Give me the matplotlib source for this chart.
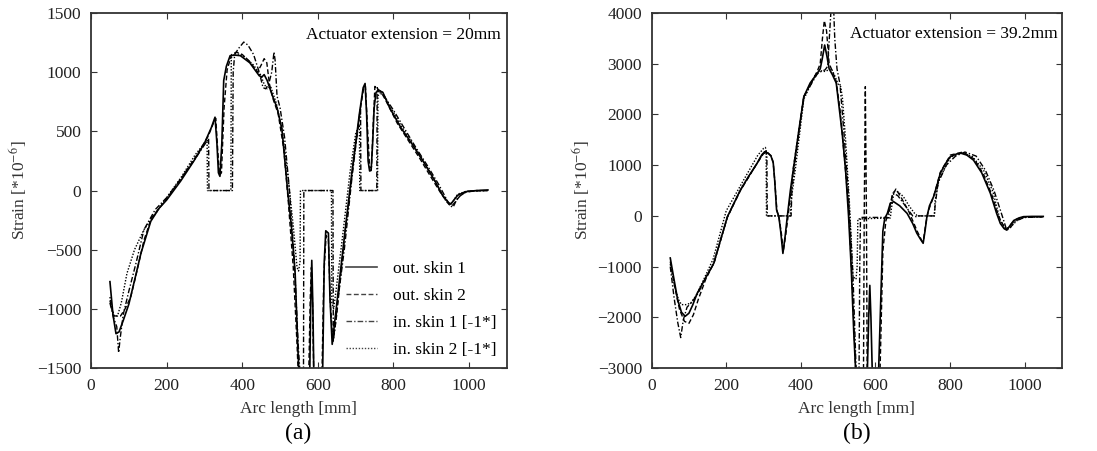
import matplotlib
matplotlib.use("Agg")
import matplotlib.pyplot as plt

plt.rcParams['font.family'] = ['Liberation Serif', 'DejaVu Serif']
plt.rcParams['mathtext.fontset'] = 'stix'

# ---------------- (a) actuator extension = 20mm ----------------
a_out1_x = [50, 58, 66, 74, 85, 100, 115, 132, 158, 180, 200, 237, 272, 300, 318, 328, 333, 337, 341,
            346, 351, 358, 368, 380, 395, 420, 445, 452, 458, 466, 480, 492, 505, 520, 530, 540, 548,
            553, 578, 581, 584, 587, 590, 612, 617, 621, 628, 632, 638, 645, 670, 690, 710, 720, 725,
            729, 733, 737, 741, 745, 749, 754, 762, 772, 790, 820, 850, 880, 910, 930, 945, 952, 960,
            970, 990, 1020, 1050]
a_out1_y = [-770, -1050, -1210, -1195, -1100, -960, -760, -530, -260, -150, -80, 80, 250, 400, 530, 620,
            400, 150, 120, 400, 930, 1050, 1140, 1145, 1140, 1080, 970, 960, 980, 930, 800, 700, 520,
            0, -300, -700, -1400, -1700, -1700, -1000, -590, -1000, -1700, -1700, -600, -340, -360,
            -900, -1300, -1100, -400, 150, 650, 870, 905, 650, 250, 165, 170, 400, 700, 830, 845, 830,
            700, 530, 390, 240, 80, -40, -100, -115, -80, -40, -10, 0, 5]

a_out2_x = [50, 60, 70, 78, 90, 105, 120, 140, 160, 200, 240, 280, 310, 325, 330, 335, 340, 345, 352,
            360, 372, 385, 400, 420, 440, 450, 458, 465, 472, 482, 495, 510, 522, 535, 545, 550, 575,
            580, 583, 586, 590, 610, 616, 622, 628, 633, 640, 650, 672, 692, 712, 722, 726, 732, 737,
            742, 747, 751, 757, 766, 780, 810, 840, 870, 900, 925, 945, 955, 965, 980, 1000, 1050]
a_out2_y = [-930, -1060, -1060, -1060, -1000, -900, -700, -420, -230, -70, 110, 300, 460, 580, 610,
            350, 130, 150, 700, 1020, 1150, 1170, 1150, 1090, 1000, 1060, 1115, 1080, 900, 770, 650,
            350, -100, -650, -1300, -1700, -1700, -900, -650, -950, -1700, -1700, -700, -380, -420,
            -950, -1280, -1050, -350, 180, 680, 880, 880, 500, 190, 200, 600, 880, 860, 840, 760, 570,
            420, 270, 110, -20, -110, -130, -90, -30, -5, 0]

a_in1_x = [50, 60, 68, 73, 77, 85, 100, 120, 140, 170, 200, 240, 280, 305, 311, 312, 374, 376, 380,
           390, 404, 415, 430, 445, 455, 462, 470, 478, 484, 487, 492, 500, 512, 525, 538, 548, 556,
           562, 563, 640, 641, 646, 652, 670, 690, 705, 713, 714, 756, 757, 762, 775, 800, 830, 860,
           890, 920, 940, 950, 958, 970, 990, 1020, 1050]
a_in1_y = [-950, -1080, -1150, -1370, -1250, -1050, -850, -600, -330, -160, -60, 110, 290, 410, 440,
           0, 0, 1000, 1150, 1200, 1255, 1230, 1150, 1000, 870, 860, 900, 1000, 1170, 1100, 800, 700,
           450, 0, -600, -1300, -1700, -1700, 0, 0, -1270, -1150, -950, -500, 100, 500, 700, 0, 0,
           870, 830, 800, 680, 520, 360, 210, 50, -70, -130, -140, -60, -15, 0, 0]

a_in2_x = [50, 55, 62, 70, 80, 95, 115, 140, 165, 200, 240, 275, 300, 307, 308, 370, 371, 380, 395,
           410, 430, 448, 458, 466, 475, 490, 505, 520, 535, 545, 549, 553, 554, 636, 637, 642, 648,
           665, 685, 700, 710, 711, 758, 759, 768, 790, 820, 850, 880, 910, 935, 948, 958, 970, 995,
           1050]
a_in2_y = [-900, -1000, -1060, -1060, -950, -700, -500, -330, -220, -60, 120, 300, 400, 420, 0, 0,
           1120, 1160, 1150, 1120, 1060, 980, 900, 860, 880, 740, 520, 150, -300, -650, -680, -600, 0,
           0, -950, -1000, -850, -400, 150, 480, 560, 0, 0, 800, 840, 720, 550, 400, 250, 80, -70,
           -120, -90, -30, -5, 0]

# ---------------- (b) actuator extension = 39.2mm ----------------
b_out1_x = [50, 60, 70, 80, 90, 100, 110, 122, 145, 167, 185, 203, 220, 238, 260, 283, 295, 303, 312,
            320, 326, 330, 335, 341, 346, 352, 358, 364, 372, 381, 395, 408, 425, 444, 452, 457, 464,
            470, 476, 485, 495, 505, 511, 520, 528, 535, 542, 548, 578, 582, 585, 588, 592, 608, 615,
            620, 625, 632, 640, 649, 665, 685, 700, 711, 720, 728, 733, 738, 745, 756, 765, 774, 787,
            801, 819, 830, 845, 863, 885, 908, 925, 935, 945, 952, 960, 971, 985, 997, 1020, 1050]
b_out1_y = [-830, -1250, -1660, -1900, -1980, -1920, -1760, -1530, -1220, -930, -470, -20, 240, 510,
            780, 1040, 1200, 1265, 1240, 1180, 1050, 700, 120, -10, -300, -740, -400, 0, 500, 970,
            1700, 2350, 2620, 2810, 2900, 3080, 3370, 3150, 2900, 2780, 2620, 2000, 1630, 900, 0,
            -1000, -2300, -3200, -3200, -2000, -1370, -2000, -3200, -3200, -1500, -300, -50, 50, 250,
            280, 200, 50, -150, -340, -450, -540, -300, -20, 200, 380, 600, 840, 1020, 1170, 1225,
            1235, 1200, 1100, 850, 450, 50, -150, -250, -280, -200, -90, -40, -15, -10, -10]

b_out2_x = [50, 62, 75, 88, 100, 112, 125, 145, 167, 185, 203, 238, 283, 300, 310, 320, 326, 330, 336,
            342, 348, 353, 360, 366, 380, 408, 444, 452, 458, 463, 469, 476, 485, 495, 505, 515, 528,
            540, 548, 568, 570, 573, 576, 578, 600, 612, 620, 628, 636, 645, 655, 670, 690, 712, 725,
            729, 735, 742, 756, 774, 801, 835, 865, 890, 912, 930, 948, 955, 965, 980, 1000, 1050]
b_out2_y = [-900, -1400, -1850, -2080, -2120, -1950, -1650, -1250, -930, -480, -30, 500, 1040, 1230,
            1250, 1190, 1060, 700, 100, -50, -350, -700, -350, 0, 950, 2350, 2850, 3000, 3500, 3850,
            3650, 3000, 2850, 2650, 2100, 1300, 200, -1700, -3200, -3200, 0, 2550, 0, -3200, -3200,
            -3200, -700, -100, 100, 400, 530, 350, 80, -300, -500, -470, -150, 100, 380, 860, 1200,
            1260, 1120, 820, 420, 0, -260, -250, -150, -60, -20, -15]

b_in1_x = [50, 60, 70, 78, 85, 95, 108, 125, 145, 167, 203, 238, 283, 300, 307, 309, 310, 374, 376,
           385, 408, 444, 455, 465, 472, 478, 483, 487, 491, 497, 505, 515, 528, 540, 549, 556, 558,
           560, 630, 635, 640, 647, 660, 680, 700, 712, 713, 758, 760, 768, 790, 815, 840, 870, 895,
           918, 940, 952, 960, 975, 1000, 1050]
b_in1_y = [-1000, -1600, -2100, -2400, -2050, -1800, -1700, -1520, -1220, -930, -20, 510, 1040, 1250,
           1280, 1200, 0, 0, 500, 1100, 2350, 2800, 2850, 2880, 2950, 3700, 4300, 4300, 3500, 2900,
           2600, 1700, 400, -1200, -3200, -3200, -1000, -30, -30, -40, 200, 450, 400, 200, 0, -20, 0,
           0, 200, 650, 1000, 1180, 1260, 1180, 900, 500, 0, -280, -250, -100, -30, -20]

b_in2_x = [50, 62, 72, 80, 92, 105, 120, 140, 165, 200, 250, 285, 300, 305, 307, 308, 372, 374, 385,
           408, 440, 452, 458, 466, 474, 482, 490, 500, 507, 512, 520, 530, 540, 548, 551, 553, 640,
           643, 650, 660, 675, 690, 705, 710, 711, 758, 760, 770, 800, 830, 860, 890, 915, 935, 950,
           962, 980, 1000, 1050]
b_in2_y = [-950, -1400, -1650, -1750, -1750, -1720, -1560, -1250, -850, 100, 750, 1200, 1330, 1350,
           1300, 0, 0, 300, 900, 2300, 2800, 2870, 2850, 2850, 2880, 2900, 2780, 2600, 2550, 2300,
           1500, 300, -1200, -1250, -1000, -60, -40, 150, 480, 480, 380, 200, 50, 20, 0, 0, 300, 700,
           1150, 1250, 1170, 900, 480, -100, -250, -220, -90, -30, -20]

series_labels = ['out. skin 1', 'out. skin 2', 'in. skin 1 [-1*]', 'in. skin 2 [-1*]']
line_styles = ['-', (0, (3.5, 1.8)), (0, (4, 1.5, 1, 1.5)), (0, (1, 1.2))]
line_widths = [1.2, 1.0, 1.0, 1.0]

a_series = [(a_out1_x, a_out1_y), (a_out2_x, a_out2_y), (a_in1_x, a_in1_y), (a_in2_x, a_in2_y)]
b_series = [(b_out1_x, b_out1_y), (b_out2_x, b_out2_y), (b_in1_x, b_in1_y), (b_in2_x, b_in2_y)]

fig = plt.figure(figsize=(10.97, 4.51), dpi=100)
ax_a = fig.add_axes([0.083, 0.184, 0.379, 0.787])
ax_b = fig.add_axes([0.594, 0.184, 0.374, 0.787])


def style_axis(ax, yticks, ylim, ypad):
    ax.set_xlim(0, 1100)
    ax.set_ylim(*ylim)
    ax.set_xticks([0, 200, 400, 600, 800, 1000])
    ax.set_yticks(yticks)
    ax.tick_params(direction='in', top=True, right=True, length=4, width=0.8,
                   labelsize=12.5, pad=7, colors='#333333', labelcolor='#222222')
    for sp in ax.spines.values():
        sp.set_linewidth(1.3)
        sp.set_color('#333333')
    ax.set_xlabel('Arc length [mm]', fontsize=12.5, color='#333333', labelpad=5)
    ax.set_ylabel(r'Strain [*10$^{-6}$]', fontsize=12.5, color='#333333', labelpad=ypad)


for (x, y), lab, ls, lw in zip(a_series, series_labels, line_styles, line_widths):
    ax_a.plot(x, y, color='black', linestyle=ls, linewidth=lw, label=lab)
for (x, y), ls, lw in zip(b_series, line_styles, line_widths):
    ax_b.plot(x, y, color='black', linestyle=ls, linewidth=lw)

style_axis(ax_a, [-1500, -1000, -500, 0, 500, 1000, 1500], (-1500, 1500), 6)
style_axis(ax_b, [-3000, -2000, -1000, 0, 1000, 2000, 3000, 4000], (-3000, 4000), 4)

ax_a.text(0.985, 0.96, 'Actuator extension = 20mm', transform=ax_a.transAxes,
          ha='right', va='top', fontsize=12.5)
ax_b.text(0.99, 0.965, 'Actuator extension = 39.2mm', transform=ax_b.transAxes,
          ha='right', va='top', fontsize=12.5)

leg = ax_a.legend(loc='lower right', frameon=False, fontsize=12.5, handlelength=1.8,
                  handletextpad=0.9, labelspacing=0.62, borderaxespad=0.2)
for h in leg.get_lines():
    h.set_color('#444444')

fig.text(0.272, 0.04, '(a)', ha='center', va='center', fontsize=17)
fig.text(0.781, 0.04, '(b)', ha='center', va='center', fontsize=17)

fig.savefig('out.png', dpi=100)
